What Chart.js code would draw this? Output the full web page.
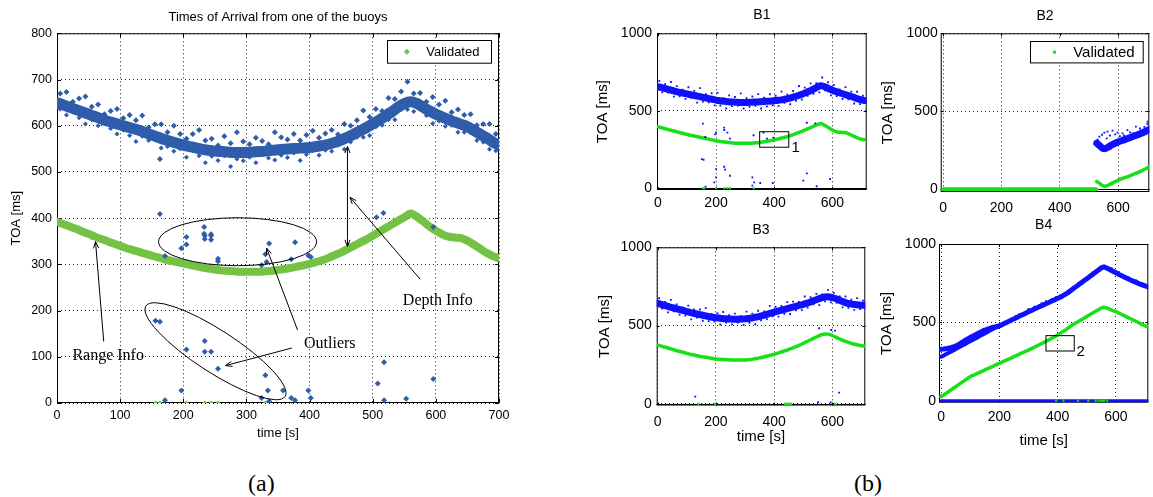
<!DOCTYPE html>
<html>
<head>
<meta charset="utf-8">
<title>Times of Arrival</title>
<script src="https://cdn.jsdelivr.net/npm/chart.js@4.4.1/dist/chart.umd.min.js"></script>
<style>
  body { margin: 0; background: #fff; }
  #page { position: relative; width: 1153px; height: 497px; overflow: hidden; }
  canvas { position: absolute; }
  .caption { position: absolute; top: 471px; font: 24px "Liberation Serif", "Times New Roman", serif; line-height: 24px; color: #000; }
</style>
</head>
<body>
<div id="page">
  <canvas id="toaA" width="520" height="448" style="left:0;top:0"></canvas>
  <canvas id="toaB1" width="285" height="215" style="left:590px;top:0"></canvas>
  <canvas id="toaB2" width="283" height="220" style="left:870px;top:0"></canvas>
  <canvas id="toaB3" width="285" height="230" style="left:590px;top:220px"></canvas>
  <canvas id="toaB4" width="283" height="240" style="left:870px;top:212px"></canvas>
  <div class="caption" style="left:248px">(a)</div>
  <div class="caption" style="left:854px">(b)</div>
</div>
<script>
// ---------- (a) one buoy in detail ----------
const timeA = [0,10,20,30,40,50,60,70,80,90,100,110,120,130,140,150,160,170,180,190,200,210,220,230,240,250,260,270,280,290,300,310,320,330,340,350,360,370,380,390,400,410,420,430,440,450,460,470,480,490,500,510,520,530,540,550,560,570,580,590,600,610,620,630,640,650,660,670,680,690,700];
const bandA = [650,645,640,635,630,625,620,615,610,606, 602,598,594,590,585,580,575,570,566,562, 558,555,552,549,547,545,544,543,542,542, 542,543,544,545,547,548,549,550,551,552, 553,555,557,560,564,569,575,582,589,596, 604,612,621,630,640,648,652,648,640,632, 625,619,613,608,603,598,590,582,574,565, 558];
const rangeA = [392,387,382,377,371,366,360,355,350,345, 340,335,331,327,323,319,315,311,308,305, 302,299,296,293,291,289,287,286,285,284, 284,284,284,285,286,288,290,292,295,298, 301,305,309,314,320,326,333,340,347,354, 362,370,378,386,394,402,410,403,393,382, 373,365,360,358,357,351,343,334,325,318, 313];
const timeMidA = [5,15,25,35,45,55,65,75,85,95,105,115,125,135,145,155,165,175,185,195,205,215,225,235,245,255,265,275,285,295,305,315,325,335,345,355,365,375,385,395,405,415,425,435,445,455,465,475,485,495,505,515,525,535,545,555,565,575,585,595,605,615,625,635,645,655,665,675,685,695];
const bandHighA = [670,673,652,659,663,641,646,625,632,636, 616,623,612,622,596,603,603,586,600,582, 572,582,591,568,572,557,577,562,586,566, 560,574,567,560,586,575,570,582,568,580, 589,574,583,591,581,604,600,612,633,619, 636,632,660,658,674,695,670,671,652,662, 646,654,629,635,623,625,601,604,604,582];
const bandLowA = [636,623,630,617,604,613,600,607,594,582, 591,579,566,577,568,571,552,555,545,550, 532,546,535,520,534,525,535,512,528,524, 532,520,538,530,526,536,531,541,525,538, 546,536,547,545,558,549,565,575,575,579, 598,601,613,613,635,635,631,636,622,605, 610,599,601,586,586,585,568,565,549,546];
const outlierTimeA = [163,163,171,197,205,205,233,233,234,234,244,244,244,255,255,324,330,332,336,371,377,398,402,506,517,596, 156,163,205,234,234,244,255,197,171,330,334,324,336,358,371,377,398,402,508,518,518,553,596];
const outlierToaA = [528,409,318,335,343,359,381,366,362,355,362,353,365,312,307,298,322,305,345,311,348,319,316,402,411,381, 178,176,116,134,111,111,74,27,6,60,27,11,4,27,11,6,27,11,42,88,6,9,52];
const validZeroTimeA = [156,163,205,234,244,255,330];
const validZeroToaA = [0,0,0,0,0,0,0];
const xTicksA = [0,100,200,300,400,500,600,700];
const yTicksA = [0,100,200,300,400,500,600,700,800];

// ---------- (b) four buoys ----------
const timeB = [0,10,20,30,40,50,60,70,80,90,100,110,120,130,140,150,160,170,180,190,200,210,220,230,240,250,260,270,280,290,300,310,320,330,340,350,360,370,380,390,400,410,420,430,440,450,460,470,480,490,500,510,520,530,540,550,560,570,580,590,600,610,620,630,640,650,660,670,680,690,700,710];
const timeUpB = [5,25,45,65,85,105,125,145,165,185,205,225,245,265,285,305,325,345,365,385,405,425,445,465,485,505,525,545,565,585,605,625,645,665,685,705];
const timeLowB = [15,35,55,75,95,115,135,155,175,195,215,235,255,275,295,315,335,355,375,395,415,435,455,475,495,515,535,555,575,595,615,635,655,675,695];
const xTicksB = [0,200,400,600];
const yTicksB = [0,500,1000];

// B1
const bandB1 = [655,651,646,641,636,631,626,621,617,613, 609,605,601,597,593,589,585,581,577,573, 569,566,563,561,559,557,556,555,554,554, 554,554,555,556,557,558,560,561,562,563, 565,567,569,572,576,580,585,591,597,603, 610,618,626,635,645,655,662,658,650,641, 633,626,619,613,607,601,595,589,582,576, 570,566];
const bandUpB1 = [693,672,686,659,637,652,629,646,608,613, 616,582,600,589,612,581,592,608,585,607, 597,624,604,628,660,649,677,679,715,684, 667,638,653,624,623,597];
const bandLowB1 = [619,617,591,593,577,583,553,559,555,535, 533,515,530,534,515,525,532,515,529,536, 532,551,542,565,572,596,609,619,632,600, 595,576,574,547,543];
const rangeB1 = [397,392,387,382,377,372,367,362,357,352, 348,343,339,335,331,327,323,319,315,311, 307,304,301,298,296,294,292,291,290,290, 290,290,291,292,294,296,299,302,305,309, 313,317,321,326,331,337,343,350,357,364, 372,380,388,396,404,412,418,410,399,388, 376,367,362,361,360,356,348,339,330,322, 316,313];
const outlierTimeB1 = [155,151,157,163,200,197,200,200,194,228, 228,228,231,239,248,248,325,331,329,363, 375,397,395,352,500,512,546,592,512,541, 325,164];
const outlierToaB1 = [417,188,184,331,359,348,124,70,38,391, 376,139,120,359,81,320,70,38,342,359, 320,327,34,34,49,96,13,60,423,419, 17,11];
const validZeroTimeB1 = [155,160,200,228,239,248,330];
const validZeroToaB1 = [0,0,0,0,0,0,0];

// B2
const timeBandB2 = [527,537,547,557,567,580,600,620,640,660,680,700,707];
const bandB2 = [295,280,263,262,272,286,303,317,331,345,360,377,384];
const timeUpB2 = [530,536,545,553,561,564,572,581,590,598,606,615,620,632,641,650,661,675,690,700,701];
const bandUpB2 = [318,338,350,363,327,370,345,376,352,363,341,359,345,380,365,359,402,390,400,420,434];
const timeLowB2 = [530,540,550,560,575,590,610,630,650,670,690,705];
const bandLowB2 = [275,262,248,250,262,278,297,312,326,340,356,372];
const timeRangeB2 = [527,537,547,557,570,585,600,620,640,660,680,700,707];
const rangeB2 = [50,38,24,20,30,45,58,73,87,102,118,137,146];
const timeZeroB2 = [0,525];
const toaZeroB2 = [0,0];

// B3
const bandB3 = [642,637,631,626,620,615,610,605,600,595, 590,585,580,576,572,568,564,560,556,553, 550,548,546,544,543,542,541,541,541,542, 543,545,548,551,555,559,564,569,575,580, 586,591,596,601,606,611,616,621,626,631, 636,642,648,655,662,669,676,681,684,683, 679,673,666,658,650,644,640,636,634,632, 630,629];
const bandUpB3 = [675,651,664,636,616,628,603,603,612,575, 579,587,567,577,561,589,576,595,590,626, 620,625,650,653,651,686,681,703,699,728, 709,687,686,666,676,660];
const bandLowB3 = [609,585,592,570,564,540,552,531,528,525, 507,519,508,520,505,517,509,534,541,560, 557,575,574,598,599,615,636,631,655,648, 645,616,613,600,605];
const rangeB3 = [377,371,365,360,354,349,343,338,333,328, 323,318,314,310,306,302,299,296,293,290, 287,285,284,283,282,281,281,280,280,281, 281,282,284,287,290,294,298,303,308,312, 317,323,329,335,341,348,355,362,369,378, 387,396,405,414,423,432,440,445,446,444, 437,428,419,410,402,396,390,384,379,375, 372,370];
const outlierTimeB3 = [129,554,596,609,623,551,594];
const outlierToaB3 = [47,483,472,468,72,11,9];
const validZeroTimeB3 = [140,197,438,443,448,453,458,610];
const validZeroToaB3 = [0,0,0,0,0,0,0,0];

// B4
const bandB4 = [328,330,333,337,342,349,358,370,382,393, 404,413,422,432,441,450,457,463,469,473, 477,486,495,504,513,522,531,540,549,558, 568,576,585,593,602,610,619,627,636,644, 653,662,672,683,696,710,724,737,751,765, 778,792,806,820,834,848,853,845,836,826, 816,806,797,788,779,770,762,754,746,739, 732,726];
const timeLeadB4 = [0,10,20,30,40,50,60,70,80,90,100,110,120,130,140,150,160,170,180,190,200];
const leadB4 = [280,289,299,309,319,329,339,349,359,369,379,389,399,409,419,429,439,449,459,468,477];
const timeUpB4 = [105,118,130,140,255,268,280,300,320,345,360,380,395,410,425,470,520,545,560,585,610,640,670,690,700];
const bandUpB4 = [415,420,440,448,540,552,560,585,600,622,635,650,662,672,686,748,818,850,862,845,822,790,768,752,742];
const rangeB4 = [26,38,50,63,76,89,102,115,128,141, 153,162,170,179,187,196,204,213,221,230, 238,247,255,264,272,281,289,298,306,315, 323,332,341,350,360,369,379,388,398,408, 419,431,443,455,469,483,494,504,515,526, 537,548,559,570,581,592,596,591,583,575, 568,559,550,541,532,523,514,505,496,487, 478,470];
const timeZeroB4 = [0,710];
const toaZeroB4 = [0,0];
const validZeroTimeB4 = [395,420,470,505,530,540,548,555,560,570];
const validZeroToaB4 = [0,0,0,0,0,0,0,0,0,0];

const BLUE_A = '#2f5dab', GREEN_A = '#74c244';
const BLUE_B = '#1010ff', GREEN_B = '#16e016';
const SANS = '"Liberation Sans", Arial, Helvetica, sans-serif';
const SERIF = '"Liberation Serif", "Times New Roman", serif';

const pts = (xs, ys) => xs.map((x, i) => ({ x, y: ys[i] }));

const dots = (xs, ys, color, r, style) => ({
  data: pts(xs, ys), showLine: false,
  pointRadius: r, pointHoverRadius: r, pointStyle: style || 'rect',
  backgroundColor: color, borderColor: color, borderWidth: 0
});

const trace = (xs, ys, color, w, tension = 0.3) => ({
  data: pts(xs, ys), showLine: true, pointRadius: 0,
  borderColor: color, borderWidth: w, tension,
  borderCapStyle: 'round', borderJoinStyle: 'round', fill: false
});

// axes box, inward tick marks and the solid line at zero
const framePlugin = {
  id: 'frame',
  beforeDatasetsDraw(chart, args, opts) {
    const { ctx, chartArea: a, scales: { x, y } } = chart;
    ctx.save();
    ctx.strokeStyle = '#000';
    ctx.lineWidth = 1;
    ctx.strokeRect(a.left + 0.5, a.top + 0.5, a.width - 1, a.height - 1);
    const t = opts.tick || 0;
    ctx.beginPath();
    if (t) {
      x.ticks.forEach(tk => {
        const px = Math.round(x.getPixelForValue(tk.value)) + 0.5;
        ctx.moveTo(px, a.bottom); ctx.lineTo(px, a.bottom - t);
        ctx.moveTo(px, a.top); ctx.lineTo(px, a.top + t);
      });
      y.ticks.forEach(tk => {
        const py = Math.round(y.getPixelForValue(tk.value)) + 0.5;
        ctx.moveTo(a.left, py); ctx.lineTo(a.left + t, py);
        ctx.moveTo(a.right, py); ctx.lineTo(a.right - t, py);
      });
    }
    if (opts.zeroLine) {
      const py = Math.round(y.getPixelForValue(0)) + 0.5;
      ctx.moveTo(a.left, py); ctx.lineTo(a.right, py);
    }
    ctx.stroke();
    ctx.restore();
  }
};

// hand annotations: boxes, ellipses, arrows and notes placed in data units
const notesPlugin = {
  id: 'notes',
  afterDatasetsDraw(chart, args, opts) {
    const { ctx, scales: { x, y } } = chart;
    const px = v => x.getPixelForValue(v), py = v => y.getPixelForValue(v);
    const head = (x1, y1, x0, y0) => {
      const ang = Math.atan2(y1 - y0, x1 - x0), L = 7, s = 0.38;
      ctx.moveTo(x1 - L * Math.cos(ang - s), y1 - L * Math.sin(ang - s));
      ctx.lineTo(x1, y1);
      ctx.lineTo(x1 - L * Math.cos(ang + s), y1 - L * Math.sin(ang + s));
    };
    ctx.save();
    ctx.strokeStyle = '#000';
    ctx.fillStyle = '#000';
    ctx.lineWidth = 1;
    (opts.rects || []).forEach(r => {
      ctx.strokeRect(px(r.x0), py(r.y1), px(r.x1) - px(r.x0), py(r.y0) - py(r.y1));
    });
    (opts.ellipses || []).forEach(e => {
      ctx.beginPath();
      ctx.ellipse(px(e.x), py(e.y), e.rx, e.ry, e.angle * Math.PI / 180, 0, 2 * Math.PI);
      ctx.stroke();
    });
    (opts.arrows || []).forEach(ar => {
      const x0 = px(ar.from[0]), y0 = py(ar.from[1]), x1 = px(ar.to[0]), y1 = py(ar.to[1]);
      ctx.beginPath();
      ctx.moveTo(x0, y0); ctx.lineTo(x1, y1);
      head(x1, y1, x0, y0);
      if (ar.both) head(x0, y0, x1, y1);
      ctx.stroke();
    });
    (opts.labels || []).forEach(l => {
      ctx.font = l.font;
      ctx.textAlign = 'center';
      ctx.textBaseline = 'middle';
      ctx.fillText(l.text, px(l.x), py(l.y));
    });
    ctx.restore();
  }
};

// MATLAB-style legend with a frame, tucked in the top right corner
const boxLegendPlugin = {
  id: 'boxLegend',
  afterDraw(chart, args, o) {
    if (!o.text) return;
    const { ctx, chartArea: a } = chart;
    const x0 = Math.round(a.right - o.right - o.width) + 0.5, y0 = Math.round(a.top + o.top) + 0.5;
    const cy = y0 + o.height / 2;
    ctx.save();
    ctx.fillStyle = '#fff';
    ctx.fillRect(x0, y0, o.width, o.height);
    ctx.strokeStyle = '#000';
    ctx.lineWidth = 1;
    ctx.strokeRect(x0, y0, o.width, o.height);
    ctx.fillStyle = o.color;
    const mx = x0 + o.markerX, r = o.markerSize;
    ctx.beginPath();
    if (o.diamond) {
      ctx.moveTo(mx, cy - r); ctx.lineTo(mx + r, cy); ctx.lineTo(mx, cy + r); ctx.lineTo(mx - r, cy);
    } else {
      ctx.rect(mx - r, cy - r, 2 * r, 2 * r);
    }
    ctx.fill();
    ctx.fillStyle = '#000';
    ctx.font = o.font;
    ctx.textAlign = 'left';
    ctx.textBaseline = 'middle';
    ctx.fillText(o.text, x0 + o.textX, cy + 0.5);
    ctx.restore();
  }
};

Chart.register(framePlugin, notesPlugin, boxLegendPlugin);

function axes(c) {
  return {
    x: {
      type: 'linear', min: c.xMin, max: c.xMax,
      afterBuildTicks: s => { s.ticks = c.xTicks.map(v => ({ value: v })); },
      afterFit: s => { s.height = c.xHeight; },
      grid: { color: '#222', lineWidth: 1, drawTicks: false },
      border: { display: false, dash: [1, 3] },
      ticks: { color: '#000', font: c.tickFont, padding: c.xPad, maxRotation: 0, autoSkip: false, callback: v => String(v) },
      title: c.xTitle
        ? { display: true, text: c.xTitle, color: '#000', font: c.titleFont, padding: { top: 0, bottom: c.xTitlePad } }
        : { display: false }
    },
    y: {
      type: 'linear', min: c.yMin, max: c.yMax,
      afterBuildTicks: s => { s.ticks = c.yTicks.map(v => ({ value: v })); },
      afterFit: s => { s.width = c.yWidth; },
      grid: { color: '#222', lineWidth: 1, drawTicks: false },
      border: { display: false, dash: [1, 3] },
      ticks: { color: '#000', font: c.tickFont, padding: c.yPad, autoSkip: false, callback: v => String(v) },
      title: { display: true, text: 'TOA [ms]', color: '#000', font: c.titleFont, padding: { top: c.yTitlePad, bottom: 0 } }
    }
  };
}

function baseOptions(c, plugins) {
  return {
    responsive: false,
    animation: false,
    events: [],
    layout: { padding: { left: 0, right: c.padRight, top: 0, bottom: 0 } },
    scales: axes(c),
    plugins: Object.assign({
      legend: { display: false },
      tooltip: { enabled: false },
      title: {
        display: true, text: c.title, color: '#000', font: c.headFont, fullSize: false,
        padding: { top: c.headTop, bottom: c.headBottom }
      }
    }, plugins)
  };
}

// (a)
new Chart(document.getElementById('toaA'), {
  type: 'scatter',
  data: {
    datasets: [
      dots(outlierTimeA, outlierToaA, BLUE_A, 3, 'rectRot'),
      dots(validZeroTimeA, validZeroToaA, GREEN_A, 2.5, 'rectRot'),
      dots(timeMidA, bandHighA, BLUE_A, 3, 'rectRot'),
      dots(timeMidA, bandLowA, BLUE_A, 2.5, 'rectRot'),
      trace(timeA, rangeA, GREEN_A, 8),
      trace(timeA, bandA, BLUE_A, 11)
    ]
  },
  options: baseOptions({
    xMin: 0, xMax: 700, yMin: 0, yMax: 800, xTicks: xTicksA, yTicks: yTicksA,
    xHeight: 45, yWidth: 57, padRight: 21, xPad: 5, yPad: 5,
    tickFont: { family: SANS, size: 12.5 }, titleFont: { family: SANS, size: 13 },
    xTitle: 'time [s]', xTitlePad: 7, yTitlePad: 9,
    title: 'Times of Arrival from one of the buoys', headFont: { family: SANS, size: 13, weight: 'normal' },
    headTop: 9.5, headBottom: 8.2
  }, {
    frame: { tick: 4 },
    boxLegend: {
      text: 'Validated', color: GREEN_A, diamond: true, markerSize: 3,
      right: 7.7, top: 6.7, width: 104, height: 22.7, markerX: 19.4, textX: 38.7,
      font: '13px ' + SANS
    },
    notes: {
      ellipses: [
        { x: 286, y: 349, rx: 79, ry: 24, angle: 0 },
        { x: 251, y: 112, rx: 83, ry: 21, angle: 33 }
      ],
      arrows: [
        { from: [74, 133], to: [61, 349] },
        { from: [381, 158], to: [332, 335] },
        { from: [372, 119], to: [267, 81] },
        { from: [460, 555], to: [460, 339], both: true },
        { from: [575, 268], to: [464, 445] }
      ],
      labels: [
        { text: 'Range Info', x: 81, y: 102, font: '16px ' + SERIF },
        { text: 'Outliers', x: 432, y: 128, font: '16px ' + SERIF },
        { text: 'Depth Info', x: 603, y: 222, font: '16px ' + SERIF }
      ]
    }
  })
});

// (b) shared styling for the four small panels
const smallFonts = {
  tickFont: { family: SANS, size: 14 }, titleFont: { family: SANS, size: 15 },
  headFont: { family: SANS, size: 14, weight: 'normal' },
  xTicks: xTicksB, yTicks: yTicksB
};

new Chart(document.getElementById('toaB1'), {
  type: 'scatter',
  data: {
    datasets: [
      dots(outlierTimeB1, outlierToaB1, BLUE_B, 1.3),
      dots(validZeroTimeB1, validZeroToaB1, GREEN_B, 1.5),
      trace(timeB, rangeB1, GREEN_B, 3.5),
      dots(timeUpB, bandUpB1, BLUE_B, 1.3),
      dots(timeLowB, bandLowB1, BLUE_B, 1.3),
      trace(timeB, bandB1, BLUE_B, 7)
    ]
  },
  options: baseOptions(Object.assign({
    xMin: -3, xMax: 718, yMin: -11, yMax: 1000,
    xHeight: 25, yWidth: 67, padRight: 8.3, xPad: 5, yPad: 5, yTitlePad: 4,
    title: 'B1', headTop: 6.6, headBottom: 9.9
  }, smallFonts), {
    frame: { tick: 3, zeroLine: true },
    notes: {
      rects: [{ x0: 350, x1: 450, y0: 265, y1: 365 }],
      labels: [{ text: '1', x: 474, y: 262, font: '15px ' + SANS }]
    }
  })
});

new Chart(document.getElementById('toaB2'), {
  type: 'scatter',
  data: {
    datasets: [
      trace(timeZeroB2, toaZeroB2, GREEN_B, 4),
      trace(timeRangeB2, rangeB2, GREEN_B, 3.5),
      dots(timeUpB2, bandUpB2, BLUE_B, 1.3),
      dots(timeLowB2, bandLowB2, BLUE_B, 1.3),
      trace(timeBandB2, bandB2, BLUE_B, 7)
    ]
  },
  options: baseOptions(Object.assign({
    xMin: -8, xMax: 707, yMin: -17, yMax: 1000,
    xHeight: 28, yWidth: 70.7, padRight: 3.7, xPad: 8, yPad: 3, yTitlePad: 9,
    title: 'B2', headTop: 7.3, headBottom: 9.2
  }, smallFonts), {
    frame: { tick: 3, zeroLine: true },
    boxLegend: {
      text: 'Validated', color: GREEN_B, diamond: false, markerSize: 1.5,
      right: 6.6, top: 8, width: 112.7, height: 21.4, markerX: 24, textX: 42.7,
      font: '15px ' + SANS
    }
  })
});

new Chart(document.getElementById('toaB3'), {
  type: 'scatter',
  data: {
    datasets: [
      dots(outlierTimeB3, outlierToaB3, BLUE_B, 1.3),
      dots(validZeroTimeB3, validZeroToaB3, GREEN_B, 1.5),
      trace(timeB, rangeB3, GREEN_B, 3.5),
      dots(timeUpB, bandUpB3, BLUE_B, 1.3),
      dots(timeLowB, bandLowB3, BLUE_B, 1.3),
      trace(timeB, bandB3, BLUE_B, 7)
    ]
  },
  options: baseOptions(Object.assign({
    xMin: -3.4, xMax: 713, yMin: -10, yMax: 1000,
    xHeight: 44.5, yWidth: 66.7, padRight: 9.7, xPad: 8, yPad: 5, yTitlePad: 6,
    xTitle: 'time [s]', xTitlePad: 3.7,
    title: 'B3', headTop: 1.6, headBottom: 8.9
  }, smallFonts), {
    frame: { tick: 3, zeroLine: true }
  })
});

new Chart(document.getElementById('toaB4'), {
  type: 'scatter',
  data: {
    datasets: [
      dots(validZeroTimeB4, validZeroToaB4, GREEN_B, 1.5),
      trace(timeZeroB4, toaZeroB4, BLUE_B, 3, 0),
      trace(timeB, rangeB4, GREEN_B, 3.5, 0),
      dots(timeUpB4, bandUpB4, BLUE_B, 1.3),
      trace(timeLeadB4, leadB4, BLUE_B, 4, 0.1),
      trace(timeB, bandB4, BLUE_B, 5, 0.1)
    ]
  },
  options: baseOptions(Object.assign({
    xMin: -7, xMax: 711, yMin: -13, yMax: 1000,
    xHeight: 49.3, yWidth: 69, padRight: 4.7, xPad: 6, yPad: 3, yTitlePad: 7.7,
    xTitle: 'time [s]', xTitlePad: 2.3,
    title: 'B4', headTop: 4.6, headBottom: 10.6
  }, smallFonts), {
    frame: { tick: 3, zeroLine: true },
    notes: {
      rects: [{ x0: 360, x1: 457, y0: 317, y1: 415 }],
      labels: [{ text: '2', x: 479, y: 313, font: '15px ' + SANS }]
    }
  })
});
</script>
</body>
</html>
